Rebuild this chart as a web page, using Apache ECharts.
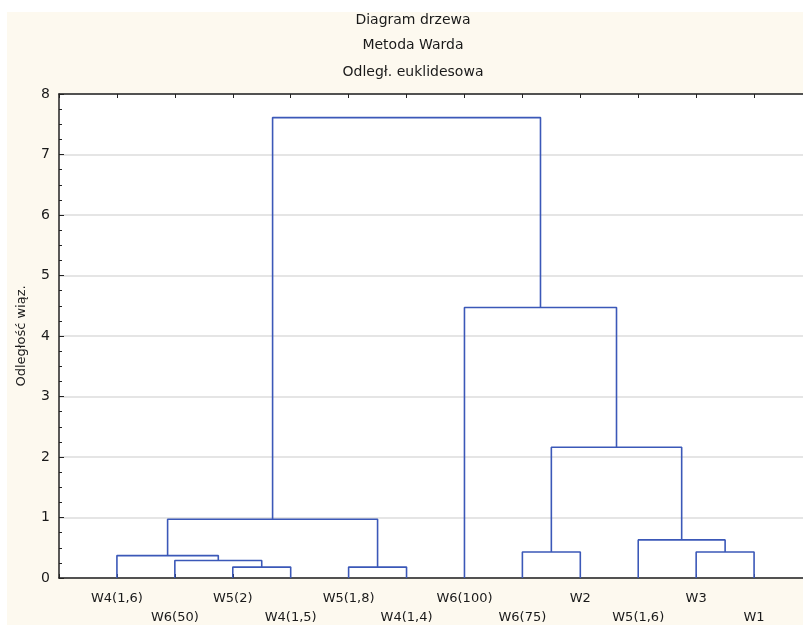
<!DOCTYPE html>
<html>
<head>
<meta charset="utf-8">
<script src="https://cdn.jsdelivr.net/npm/echarts@6/dist/echarts.min.js"></script>
<style>html,body{margin:0;padding:0;background:#fff;overflow:hidden;width:803px;height:627px}#c{width:830px;height:627px}</style>
</head>
<body>
<div id="c"></div>
<script>
// Leaves in dendrogram order (left to right)
var leaves = ['W4(1,6)','W6(50)','W5(2)','W4(1,5)','W5(1,8)','W4(1,4)','W6(100)','W6(75)','W2','W5(1,6)','W3','W1'];
// Merges: node ids 0..11 are leaves, merge k creates node 12+k
var mergeLeft   = [2, 1, 0, 4, 14, 7, 10, 9, 17, 6, 16];
var mergeRight  = [3, 12, 13, 5, 15, 8, 11, 18, 19, 20, 21];
var mergeHeight = [0.18, 0.29, 0.37, 0.18, 0.97, 0.43, 0.43, 0.63, 2.16, 4.47, 7.61];
var yTicks = [0,1,2,3,4,5,6,7,8];
var titleLines = ['Diagram drzewa', 'Metoda Warda', 'Odległ. euklidesowa'];
var yName = 'Odległość wiąz.';

var FONT = '"DejaVu Sans", Verdana, sans-serif';
var LINE = '#3B58B8';

// compute node positions
var nodeX = [], nodeH = [];
for (var i = 0; i < leaves.length; i++) { nodeX.push(i + 1); nodeH.push(0); }
var series = [];
for (var k = 0; k < mergeLeft.length; k++) {
  var a = mergeLeft[k], b = mergeRight[k], h = mergeHeight[k];
  series.push({
    type: 'line', silent: true, showSymbol: false, symbol: 'none',
    animation: false, xAxisIndex: 0, yAxisIndex: 0,
    lineStyle: { color: LINE, width: 1.6 },
    data: [[nodeX[a], nodeH[a]], [nodeX[a], h], [nodeX[b], h], [nodeX[b], nodeH[b]]]
  });
  nodeX.push((nodeX[a] + nodeX[b]) / 2);
  nodeH.push(h);
}

var graphics = [
  { type: 'rect', z: -10, silent: true, shape: { x: 7, y: 12, width: 830, height: 613 }, style: { fill: '#FDF9EF' } }
];
var titleY = [20, 45, 72];
for (var t = 0; t < titleLines.length; t++) {
  graphics.push({ type: 'text', silent: true, x: 413, y: titleY[t],
    style: { text: titleLines[t], fill: '#1a1a1a', font: '14px ' + FONT, textAlign: 'center', textVerticalAlign: 'middle' } });
}

var chart = echarts.init(document.getElementById('c'), null, { renderer: 'canvas' });
chart.setOption({
  animation: false,
  backgroundColor: '#ffffff',
  graphic: graphics,
  grid: { left: 59, top: 94, right: 18, bottom: 46, show: true, backgroundColor: '#ffffff', borderWidth: 0, containLabel: false },
  xAxis: [{
    type: 'value', min: 0, max: leaves.length + 1, interval: 1, position: 'bottom',
    axisLine: { show: true, onZero: false, lineStyle: { color: '#222', width: 1.5 } },
    axisTick: { show: true, inside: true, length: 4, lineStyle: { color: '#222' } },
    splitLine: { show: false },
    axisLabel: {
      show: true, margin: 11, color: '#1a1a1a', fontSize: 13, fontFamily: FONT, lineHeight: 19,
      showMinLabel: true, showMaxLabel: true,
      formatter: function (v) {
        var i = Math.round(v) - 1;
        if (i < 0 || i >= leaves.length) return '';
        return (i % 2 === 1 ? '\n' : '') + leaves[i];
      }
    }
  }, {
    type: 'value', min: 0, max: leaves.length + 1, interval: 1, position: 'top',
    axisLine: { show: true, onZero: false, lineStyle: { color: '#222', width: 1.5 } },
    axisTick: { show: true, inside: true, length: 4, lineStyle: { color: '#222' } },
    splitLine: { show: false }, axisLabel: { show: false }
  }],
  yAxis: [{
    type: 'value', min: yTicks[0], max: yTicks[yTicks.length - 1], interval: 1,
    name: yName, nameLocation: 'middle', nameGap: 31, nameRotate: 90,
    nameTextStyle: { color: '#1a1a1a', fontSize: 13, fontFamily: FONT },
    axisLine: { show: true, onZero: false, lineStyle: { color: '#222', width: 1.5 } },
    axisTick: { show: true, inside: true, length: 5, lineStyle: { color: '#222' } },
    minorTick: { show: true, splitNumber: 4, length: 3, lineStyle: { color: '#222' } },
    splitLine: { show: true, lineStyle: { color: '#dcdcdc', width: 1.5 } },
    axisLabel: { color: '#1a1a1a', fontSize: 14, fontFamily: FONT, margin: 9 }
  }],
  series: series
});
</script>
</body>
</html>
